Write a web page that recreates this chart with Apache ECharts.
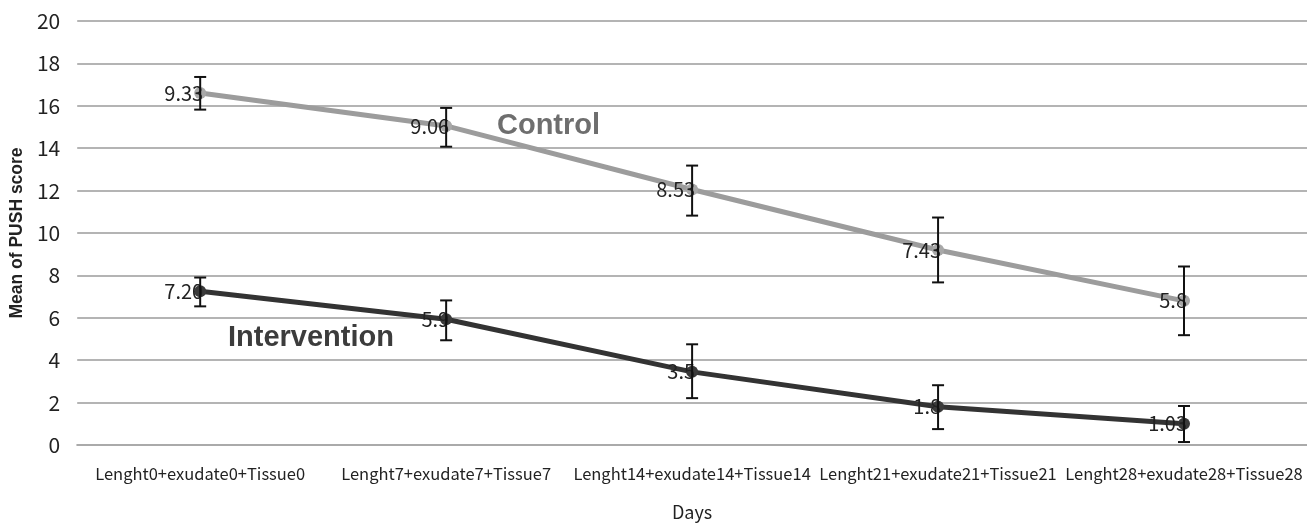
<!DOCTYPE html>
<html><head><meta charset="utf-8">
<script src="https://cdn.jsdelivr.net/npm/echarts@6/dist/echarts.min.js"></script>
<style>html,body{margin:0;padding:0;background:#fff}#c{width:1307px;height:526px}</style>
</head><body><div id="c"></div>
<script>
const categories = ['Lenght0+exudate0+Tissue0','Lenght7+exudate7+Tissue7','Lenght14+exudate14+Tissue14','Lenght21+exudate21+Tissue21','Lenght28+exudate28+Tissue28'];
const controlValues = [16.6, 15.05, 12.05, 9.2, 6.8];
const controlLabels = ['9.33','9.06','8.53','7.43','5.8'];
const controlLow = [15.82, 14.07, 10.82, 7.67, 5.18];
const controlHigh = [17.36, 15.9, 13.18, 10.73, 8.42];
const interventionValues = [7.25, 5.93, 3.45, 1.8, 1.0];
const interventionLabels = ['7.20','5.9','3.5','1.8','1.03'];
const interventionLow = [6.54, 4.94, 2.21, 0.75, 0.14];
const interventionHigh = [7.9, 6.82, 4.75, 2.82, 1.84];
const yTicks = [0,2,4,6,8,10,12,14,16,18,20];

const font = '"Noto Sans CJK SC", "Liberation Sans Narrow", sans-serif';
function errData(lo, hi){ return lo.map((l,i)=>[i,l,hi[i]]); }
function errRender(params, api){
  const x = api.value(0);
  const lo = api.coord([x, api.value(1)]);
  const hi = api.coord([x, api.value(2)]);
  const cw = 6;
  const st = {stroke:'#111', lineWidth:2};
  return {type:'group', children:[
    {type:'line', shape:{x1:lo[0],y1:lo[1],x2:hi[0],y2:hi[1]}, style:st},
    {type:'line', shape:{x1:lo[0]-cw,y1:lo[1],x2:lo[0]+cw,y2:lo[1]}, style:st},
    {type:'line', shape:{x1:hi[0]-cw,y1:hi[1],x2:hi[0]+cw,y2:hi[1]}, style:st}
  ]};
}
const chart = echarts.init(document.getElementById('c'));
chart.setOption({
  animation:false,
  grid:{left:74, right:0, top:21, bottom:80},
  xAxis:{type:'category', data:categories, boundaryGap:true,
    axisLine:{show:true, lineStyle:{color:'#aaa', width:2}}, axisTick:{show:false},
    axisLabel:{color:'#222', fontFamily:font, fontSize:16.5, margin:20, interval:0},
    name:'Days', nameLocation:'middle', nameGap:58,
    nameTextStyle:{color:'#222', fontFamily:font, fontSize:18}},
  yAxis:{type:'value', min:0, max:20, interval:2,
    axisLine:{show:false}, axisTick:{show:false},
    splitLine:{lineStyle:{color:'#b4b4b4', width:2}},
    axisLabel:{color:'#222', fontFamily:font, fontSize:21, margin:17, align:'right'},
    name:'Mean of PUSH score', nameLocation:'middle', nameGap:48,
    nameTextStyle:{color:'#222', fontFamily:'"Liberation Sans", Arial, sans-serif', fontSize:17.5, fontWeight:'bold'}},
  series:[
    {type:'line', data:controlValues, symbol:'circle', symbolSize:12,
     lineStyle:{color:'#9c9c9c', width:5}, itemStyle:{color:'#a8a8a8'}, z:2,
     label:{show:true, position:'left', distance:-9, color:'#222', fontFamily:font, fontSize:20,
       formatter:p=>controlLabels[p.dataIndex]}},
    {type:'line', data:interventionValues, symbol:'circle', symbolSize:12,
     lineStyle:{color:'#333', width:5}, itemStyle:{color:'#3a3a3a'}, z:2,
     label:{show:true, position:'left', distance:-9, color:'#222', fontFamily:font, fontSize:20,
       formatter:p=>interventionLabels[p.dataIndex]}},
    {type:'custom', renderItem:errRender, data:errData(controlLow, controlHigh), z:5, silent:true},
    {type:'custom', renderItem:errRender, data:errData(interventionLow, interventionHigh), z:5, silent:true}
  ],
  graphic:[
    {type:'text', left:497, top:111, style:{text:'Control', fill:'#6e6e6e', font:'bold 29px "Liberation Sans", Arial, sans-serif'}},
    {type:'text', left:228, top:323, style:{text:'Intervention', fill:'#3c3c3c', font:'bold 29px "Liberation Sans", Arial, sans-serif'}}
  ]
});
</script></body></html>
